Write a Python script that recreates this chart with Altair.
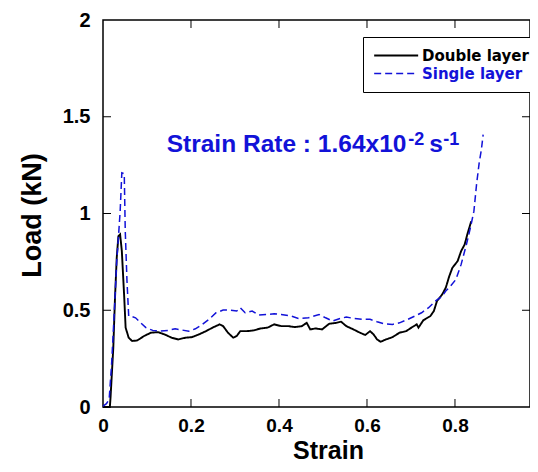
import altair as alt
import pandas as pd

# ---- data ----
dbl_strain = [0, 0.0156, 0.0171, 0.0234, 0.0273, 0.0312, 0.035, 0.0389, 0.0428, 0.0483, 0.0514,
              0.0584, 0.0662, 0.0779, 0.0935, 0.109, 0.125, 0.140, 0.156, 0.171, 0.187, 0.202,
              0.218, 0.234, 0.249, 0.265, 0.273, 0.284, 0.296, 0.304, 0.312, 0.327, 0.343, 0.358,
              0.374, 0.389, 0.405, 0.421, 0.436, 0.452, 0.463, 0.471, 0.483, 0.498, 0.514, 0.530,
              0.541, 0.553, 0.569, 0.584, 0.596, 0.607, 0.615, 0.623, 0.631, 0.643, 0.658, 0.674,
              0.689, 0.701, 0.713, 0.717, 0.728, 0.744, 0.752, 0.759, 0.771, 0.779, 0.787, 0.794,
              0.806, 0.814, 0.822, 0.829, 0.837]
dbl_load = [0, 0, 0.048, 0.306, 0.565, 0.771, 0.883, 0.892, 0.806, 0.565, 0.410,
            0.358, 0.341, 0.344, 0.367, 0.384, 0.387, 0.375, 0.358, 0.349, 0.358, 0.361,
            0.375, 0.392, 0.410, 0.427, 0.418, 0.384, 0.358, 0.367, 0.392, 0.392, 0.396, 0.406,
            0.410, 0.427, 0.418, 0.418, 0.413, 0.418, 0.435, 0.401, 0.406, 0.401, 0.430, 0.435,
            0.441, 0.418, 0.401, 0.384, 0.372, 0.392, 0.375, 0.349, 0.337, 0.349, 0.361, 0.384,
            0.392, 0.410, 0.427, 0.410, 0.448, 0.470, 0.496, 0.547, 0.582, 0.616, 0.676, 0.719,
            0.754, 0.806, 0.840, 0.900, 0.960]

sgl_strain = [0, 0.0078, 0.014, 0.0195, 0.0234, 0.0273, 0.0312, 0.035, 0.039, 0.0428, 0.0483,
              0.0506, 0.0545, 0.0584, 0.0623, 0.074, 0.0857, 0.0974, 0.113, 0.129, 0.148, 0.164,
              0.179, 0.195, 0.210, 0.226, 0.241, 0.257, 0.273, 0.288, 0.304, 0.312, 0.323, 0.339,
              0.354, 0.374, 0.389, 0.405, 0.428, 0.444, 0.467, 0.491, 0.506, 0.522, 0.537, 0.553,
              0.569, 0.592, 0.607, 0.623, 0.639, 0.658, 0.674, 0.693, 0.709, 0.724, 0.740, 0.755,
              0.771, 0.779, 0.790, 0.802, 0.814, 0.826, 0.835, 0.843, 0.849, 0.855, 0.860, 0.864]
sgl_load = [0.005, 0.017, 0.040, 0.220, 0.392, 0.565, 0.754, 0.874, 1.012, 1.210, 1.205,
            0.909, 0.651, 0.470, 0.470, 0.461, 0.435, 0.410, 0.396, 0.392, 0.396, 0.404,
            0.398, 0.392, 0.404, 0.427, 0.453, 0.487, 0.501, 0.501, 0.496, 0.513, 0.487, 0.496,
            0.475, 0.478, 0.482, 0.478, 0.470, 0.458, 0.461, 0.478, 0.461, 0.444, 0.456, 0.465,
            0.458, 0.453, 0.453, 0.441, 0.430, 0.427, 0.435, 0.453, 0.470, 0.487, 0.513, 0.547,
            0.573, 0.599, 0.625, 0.659, 0.737, 0.840, 0.926, 1.012, 1.150, 1.262, 1.330, 1.408]

series_names = ["Double layer", "Single layer"]
x_ticks = [0, 0.2, 0.4, 0.6, 0.8]
y_ticks = [0, 0.5, 1, 1.5, 2]
inner_x_ticks = [0.2, 0.4, 0.6, 0.8]
inner_y_ticks = [0.5, 1, 1.5]

ann_text = ["Strain Rate : 1.64x10", "-2", "s", "-1"]
ann_x = [0.1448, 0.694, 0.7416, 0.7734]
ann_y = [1.316, 1.355, 1.316, 1.355]
ann_size = [24.5, 18, 24.5, 18]

BLUE = "#1212d8"
FONT = "Liberation Sans"
W, H = 427, 387
X_MAX = 0.9705
TL = 8  # inward tick length

rows = []
for i, (s, l) in enumerate(zip(dbl_strain, dbl_load)):
    rows.append({"strain": s, "load": l, "series": series_names[0], "idx": i})
for i, (s, l) in enumerate(zip(sgl_strain, sgl_load)):
    rows.append({"strain": s, "load": l, "series": series_names[1], "idx": i})
df = pd.DataFrame(rows)

xscale = alt.Scale(domain=[0, X_MAX], nice=False, zero=False)
yscale = alt.Scale(domain=[0, 2], nice=False)

legend = alt.Legend(
    orient="none", legendX=260, legendY=17, title=None,
    symbolType="M-1,0H5", symbolSize=215, symbolStrokeWidth=1.5,
    labelFont="DejaVu Sans", labelFontWeight="bold", labelFontSize=15,
    labelColor={"expr": "datum.label == 'Single layer' ? '%s' : 'black'" % BLUE},
    strokeColor="black", fillColor="white", padding=10, rowPadding=1,
    labelOffset=32, labelLimit=300,
)

lines = alt.Chart(df).mark_line().encode(
    x=alt.X("strain:Q", scale=xscale,
            axis=alt.Axis(values=x_ticks, format="~g", title="Strain", ticks=False, tickSize=0,
                          domain=False, grid=False, labelFont=FONT, labelFontSize=19,
                          labelFontWeight="bold", labelColor="black", labelPadding=9,
                          labelFlush=False,
                          titleFont=FONT, titleFontSize=25, titleFontWeight="bold",
                          titleColor="black", titleX=225, titleY=51.5,
                          titleAlign="center", titleBaseline="alphabetic")),
    y=alt.Y("load:Q", scale=yscale,
            axis=alt.Axis(values=y_ticks, format="~g", title="Load (kN)", ticks=False, tickSize=0,
                          domain=False, grid=False, labelFont=FONT, labelFontSize=20,
                          labelFontWeight="bold", labelColor="black", labelPadding=13,
                          labelFlush=False,
                          titleFont=FONT, titleFontSize=27, titleFontWeight="bold",
                          titleColor="black", titleAngle=270, titleX=-63, titleY=195,
                          titleAlign="center", titleBaseline="alphabetic")),
    color=alt.Color("series:N", scale=alt.Scale(domain=series_names, range=["black", BLUE]),
                    legend=legend),
    strokeDash=alt.StrokeDash("series:N",
                              scale=alt.Scale(domain=series_names, range=[[1, 0], [7, 4]]),
                              legend=legend),
    strokeWidth=alt.StrokeWidth("series:N",
                                scale=alt.Scale(domain=series_names, range=[1.9, 1.5]),
                                legend=None),
    order=alt.Order("idx:Q"),
)

tx = pd.DataFrame({"v": inner_x_ticks})
ty = pd.DataFrame({"v": inner_y_ticks})
tick_bottom = alt.Chart(tx).mark_rule(color="black", strokeWidth=1).encode(
    x=alt.X("v:Q", scale=xscale), y=alt.value(H - TL), y2=alt.value(H))
tick_top = alt.Chart(tx).mark_rule(color="black", strokeWidth=1).encode(
    x=alt.X("v:Q", scale=xscale), y=alt.value(0), y2=alt.value(TL))
tick_left = alt.Chart(ty).mark_rule(color="black", strokeWidth=1).encode(
    y=alt.Y("v:Q", scale=yscale), x=alt.value(0), x2=alt.value(TL))
tick_right = alt.Chart(ty).mark_rule(color="black", strokeWidth=1).encode(
    y=alt.Y("v:Q", scale=yscale), x=alt.value(W - TL), x2=alt.value(W))

ann_df = pd.DataFrame({"t": ann_text, "x": ann_x, "y": ann_y, "s": ann_size})
ann = alt.Chart(ann_df).mark_text(
    align="left", baseline="alphabetic", font=FONT, fontWeight="bold", color=BLUE
).encode(
    x=alt.X("x:Q", scale=xscale), y=alt.Y("y:Q", scale=yscale),
    text="t:N", size=alt.Size("s:Q", scale=None, legend=None),
)

chart = alt.layer(tick_bottom, tick_top, tick_left, tick_right, lines, ann).properties(
    width=W, height=H,
    autosize=alt.AutoSizeParams(type="none"),
    padding={"left": 95, "top": 12, "right": 0, "bottom": 57},
    background="white",
).configure_view(stroke="black", strokeWidth=1.5)

chart.save("out.html", embed_options={"renderer": "svg", "actions": False})
